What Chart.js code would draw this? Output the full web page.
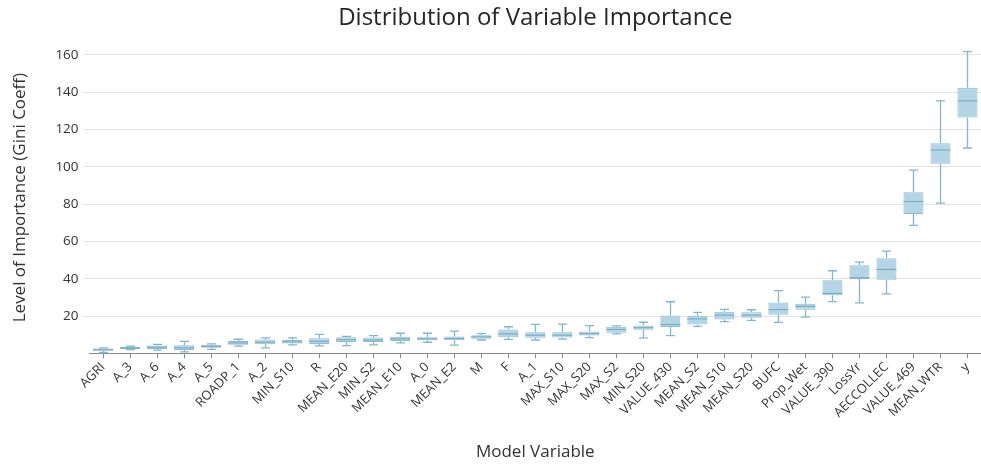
<!DOCTYPE html>
<html>
<head>
<meta charset="utf-8">
<script src="https://cdn.jsdelivr.net/npm/chart.js@4/dist/chart.umd.min.js"></script>
<style>
  html, body { margin: 0; padding: 0; background: #fff; }
  #wrap { width: 981px; height: 464px; position: relative; }
</style>
</head>
<body>
<div id="wrap"><canvas id="c"></canvas></div>
<script>
// Variables ordered by importance
const categories = ['AGRI','A_3','A_6','A_4','A_5','ROADP_1','A_2','MIN_S10','R','MEAN_E20','MIN_S2',
  'MEAN_E10','A_0','MEAN_E2','M','F','A_1','MAX_S10','MAX_S20','MAX_S2','MIN_S20','VALUE_430',
  'MEAN_S2','MEAN_S10','MEAN_S20','BUFC','Prop_Wet','VALUE_390','LossYr','AECCOLLEC','VALUE_469','MEAN_WTR','y'];

// Five-number summaries of the Gini importance per variable
const whiskerLow = [0.5, 2.0, 1.8, 0.8, 2.2, 3.9, 3.0, 4.6, 4.0, 4.2, 4.6,
  5.7, 6.0, 4.5, 7.2, 7.5, 7.2, 7.7, 8.5, 10.5, 8.3, 9.5,
  14.5, 17.0, 17.7, 16.6, 19.5, 27.8, 27.1, 31.9, 68.6, 80.5, 110.1];
const boxLow = [1.4, 2.4, 2.4, 1.9, 3.0, 4.6, 4.9, 5.3, 5.1, 6.1, 6.1,
  6.6, 7.0, 7.1, 7.8, 8.7, 8.4, 8.5, 9.6, 11.1, 12.7, 14.1,
  15.5, 18.2, 19.1, 20.7, 23.4, 31.2, 39.9, 39.5, 74.7, 101.6, 126.4];
const median = [2.0, 3.0, 3.3, 3.0, 3.8, 5.6, 6.0, 6.2, 6.5, 7.4, 7.2,
  7.8, 7.8, 8.0, 8.9, 10.5, 9.8, 9.8, 10.6, 12.8, 13.8, 15.5,
  18.5, 20.5, 20.5, 23.5, 25.2, 32.2, 40.5, 45.0, 81.4, 109.0, 135.3];
const boxHigh = [2.6, 3.5, 4.2, 4.4, 4.7, 6.7, 7.4, 7.2, 8.1, 8.7, 8.5,
  9.0, 8.7, 9.1, 9.8, 12.8, 11.4, 11.4, 11.8, 14.3, 14.9, 20.3,
  20.2, 22.3, 22.0, 27.3, 26.6, 39.2, 47.3, 51.0, 86.4, 112.6, 142.4];
const whiskerHigh = [3.0, 3.9, 4.9, 6.5, 5.1, 7.6, 8.3, 8.3, 10.2, 9.1, 9.5,
  10.8, 10.8, 12.0, 10.6, 14.3, 15.6, 15.7, 14.9, 14.8, 16.7, 27.7,
  22.0, 23.6, 23.4, 33.7, 30.2, 44.3, 48.9, 54.8, 98.2, 135.3, 161.7];

const yTicks = [20, 40, 60, 80, 100, 120, 140, 160];

const FONT = "'Open Sans', 'Noto Sans', sans-serif";
const BOX_FILL = 'rgba(176, 211, 229, 0.95)';
const BOX_EDGE = '#8dbdd3';
const WHISKER = '#86b6cb';
const MEDIAN = '#7dadc3';

// Whiskers behind the boxes, median lines on top
const boxWhiskers = {
  id: 'boxWhiskers',
  beforeDatasetsDraw(chart) {
    const { ctx, scales: { x, y } } = chart;
    ctx.save();
    ctx.strokeStyle = WHISKER;
    ctx.lineWidth = 1.3;
    const cap = 4.5;
    categories.forEach((c, i) => {
      const px = Math.round(x.getPixelForValue(i)) + 0.5;
      const yLo = y.getPixelForValue(whiskerLow[i]);
      const yHi = y.getPixelForValue(whiskerHigh[i]);
      const yQ1 = y.getPixelForValue(boxLow[i]);
      const yQ3 = y.getPixelForValue(boxHigh[i]);
      ctx.beginPath();
      ctx.moveTo(px, yQ3); ctx.lineTo(px, yHi);
      ctx.moveTo(px - cap, yHi); ctx.lineTo(px + cap, yHi);
      ctx.moveTo(px, yQ1); ctx.lineTo(px, yLo);
      ctx.moveTo(px - cap, yLo); ctx.lineTo(px + cap, yLo);
      ctx.stroke();
    });
    ctx.restore();
  },
  afterDatasetsDraw(chart) {
    const { ctx, scales: { x, y } } = chart;
    const meta = chart.getDatasetMeta(0);
    ctx.save();
    ctx.strokeStyle = MEDIAN;
    ctx.lineWidth = 1.2;
    categories.forEach((c, i) => {
      const bar = meta.data[i];
      const half = bar.width / 2;
      const px = x.getPixelForValue(i);
      const py = y.getPixelForValue(median[i]);
      ctx.beginPath();
      ctx.moveTo(px - half, py); ctx.lineTo(px + half, py);
      ctx.stroke();
    });
    ctx.restore();
  }
};

new Chart(document.getElementById('c'), {
  type: 'bar',
  data: {
    labels: categories,
    datasets: [{
      label: 'Gini importance',
      data: categories.map((c, i) => [boxLow[i], boxHigh[i]]),
      backgroundColor: BOX_FILL,
      borderColor: BOX_EDGE,
      borderWidth: 1,
      borderSkipped: false,
      barPercentage: 0.74,
      categoryPercentage: 1
    }]
  },
  options: {
    responsive: true,
    maintainAspectRatio: false,
    animation: false,
    layout: { padding: { left: 10, right: 0, top: 2, bottom: 2 } },
    plugins: {
      legend: { display: false },
      tooltip: { enabled: false },
      title: {
        display: true,
        text: 'Distribution of Variable Importance',
        fullSize: false,
        color: '#262626',
        font: { family: FONT, size: 24, weight: 'normal' },
        padding: { top: 2, bottom: 9 }
      }
    },
    scales: {
      x: {
        offset: true,
        grid: {
          offset: false,
          drawOnChartArea: false,
          drawTicks: true,
          tickLength: 5,
          color: '#8a8a8a'
        },
        border: { display: true, color: '#8a8a8a', width: 1 },
        ticks: {
          autoSkip: false,
          minRotation: 45,
          maxRotation: 45,
          padding: 1,
          color: '#333',
          font: { family: FONT, size: 13 }
        },
        title: {
          display: true,
          text: 'Model Variable',
          color: '#333',
          font: { family: FONT, size: 17 },
          padding: { top: 20, bottom: 0 }
        }
      },
      y: {
        min: 0,
        max: 167,
        afterBuildTicks(scale) {
          scale.ticks = yTicks.map(v => ({ value: v }));
        },
        grid: {
          color: '#e3e3e3',
          tickLength: 6,
          drawTicks: true
        },
        border: { display: false },
        ticks: {
          color: '#333',
          padding: 5,
          font: { family: FONT, size: 13.5 }
        },
        title: {
          display: true,
          text: 'Level of Importance (Gini Coeff)',
          color: '#333',
          font: { family: FONT, size: 17 },
          padding: { top: 0, bottom: 20 }
        }
      }
    }
  },
  plugins: [boxWhiskers]
});
</script>
</body>
</html>
